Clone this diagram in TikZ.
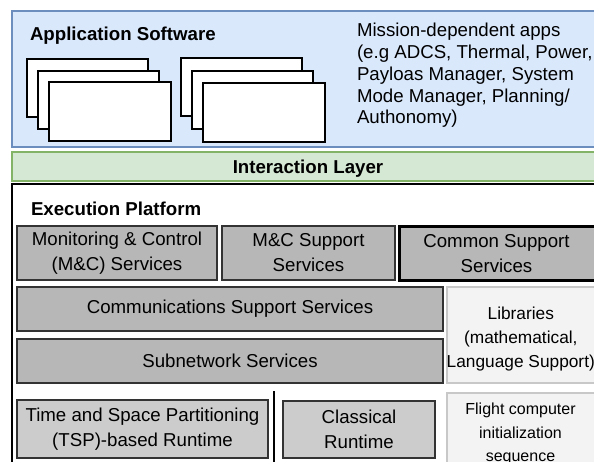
\documentclass[tikz,border=0pt]{standalone}
\usepackage{fontspec}
\setmainfont{Liberation Sans}
\definecolor{appfill}{HTML}{DAE8FC}
\definecolor{appdraw}{HTML}{6C8EBF}
\definecolor{ilfill}{HTML}{D5E8D4}
\definecolor{ildraw}{HTML}{82B366}
\definecolor{darkfill}{HTML}{B7B7B7}
\definecolor{lightfill}{HTML}{CCCCCC}
\definecolor{libfill}{HTML}{F3F3F3}
\definecolor{libdraw}{HTML}{C8C8C8}
\definecolor{edge}{HTML}{333333}
\begin{document}
\begin{tikzpicture}[x=1pt,y=-1pt,
  every node/.style={inner sep=0pt, outer sep=0pt},
  boxfont/.style={font=\fontsize{18.67}{25}\selectfont, align=center},
  layer/.style={anchor=north west, draw, line width=1.5pt},
  appbox/.style={layer, fill=appfill, draw=appdraw},
  ilbox/.style={layer, fill=ilfill, draw=ildraw, line width=2pt},
  execbox/.style={layer, fill=white, draw=black, line width=2pt},
  winbox/.style={anchor=north west, draw=black, fill=white, line width=1.5pt, minimum width=121pt, minimum height=58pt},
  darkbox/.style={anchor=north west, draw=edge, fill=darkfill, line width=1.5pt, boxfont},
  lightbox/.style={anchor=north west, draw=edge, fill=lightfill, line width=1.5pt, boxfont},
  libbox/.style={anchor=north west, draw=libdraw, fill=libfill, line width=1.5pt},
  title/.style={anchor=base west, font=\fontsize{18.67}{22}\selectfont\bfseries},
  divider/.style={draw=black, line width=2.5pt}
]
\useasboundingbox (0,0) rectangle (594,461);
\clip (0,0) rectangle (594,461);

% Application software layer
\node[appbox, minimum width=600pt, minimum height=136pt] (app) at (12,11) {};
\node[title] (apptitle) at (30,40.7) {Application Software};
\node[winbox] (a1) at (27,59) {};
\node[winbox] (a2) at (38,71) {};
\node[winbox, minimum width=122pt, minimum height=59pt] (a3) at (49,82) {};
\node[winbox] (b1) at (181,58) {};
\node[winbox] (b2) at (192,71) {};
\node[winbox, minimum width=122pt, minimum height=59pt] (b3) at (203,83) {};
\node[anchor=north west, align=left, font=\fontsize{18.67}{21.8}\selectfont] (mission) at (357,23.2)
  {Mission-dependent apps\\(e.g ADCS, Thermal, Power,\\Payloas Manager, System\\Mode Manager, Planning/\\Authonomy)};

% Interaction layer
\node[ilbox, minimum width=600pt, minimum height=29pt] (il) at (12,152) {};
\node[anchor=base, font=\fontsize{18.67}{22}\selectfont\bfseries] (iltext) at (308,173.3) {Interaction Layer};

% Execution platform
\node[execbox, minimum width=600pt, minimum height=300pt] (exec) at (11.5,184) {};
\node[title] (exectitle) at (31,215) {Execution Platform};

\node[darkbox, minimum width=200pt, minimum height=54pt] (mc) at (17,226) {Monitoring \& Control\\(M\&C) Services};
\node[darkbox, minimum width=173pt, minimum height=54pt] (mcs) at (222,226) {M\&C Support\\Services};
\node[darkbox, draw=black, line width=2.2pt, minimum width=200pt, minimum height=54pt] (cs) at (399.5,226.5) {\hspace*{-6pt}Common Support\\\hspace*{-6pt}Services};

\node[darkbox, minimum width=426pt, minimum height=44pt] (comm) at (17,287) {Communications Support Services};
\node[darkbox, minimum width=426pt, minimum height=44pt] (sub) at (17,339) {Subnetwork Services};

\node[libbox, minimum width=149pt, minimum height=96pt] (lib) at (447,287) {};
\node[align=center, font=\fontsize{17.3}{23.7}\selectfont] (libtext) at (520.8,339)
  {Libraries\\(mathematical,\\Language Support)};
\node[libbox, minimum width=149pt, minimum height=80pt] (flight) at (447,393) {};
\node[align=center, font=\fontsize{16}{23.5}\selectfont] (flighttext) at (520.5,434)
  {Flight computer\\initialization\\sequence};

\node[lightbox, minimum width=251pt, minimum height=58pt] (tsp) at (17,400) {Time and Space Partitioning\\(TSP)-based Runtime};
\node[lightbox, minimum width=152pt, minimum height=57pt] (classic) at (283,401) {Classical\\Runtime};

\coordinate (dtop) at (274,391);
\coordinate (dbot) at (274,470);
\draw[divider] (dtop) -- (dbot);
\end{tikzpicture}
\end{document}
